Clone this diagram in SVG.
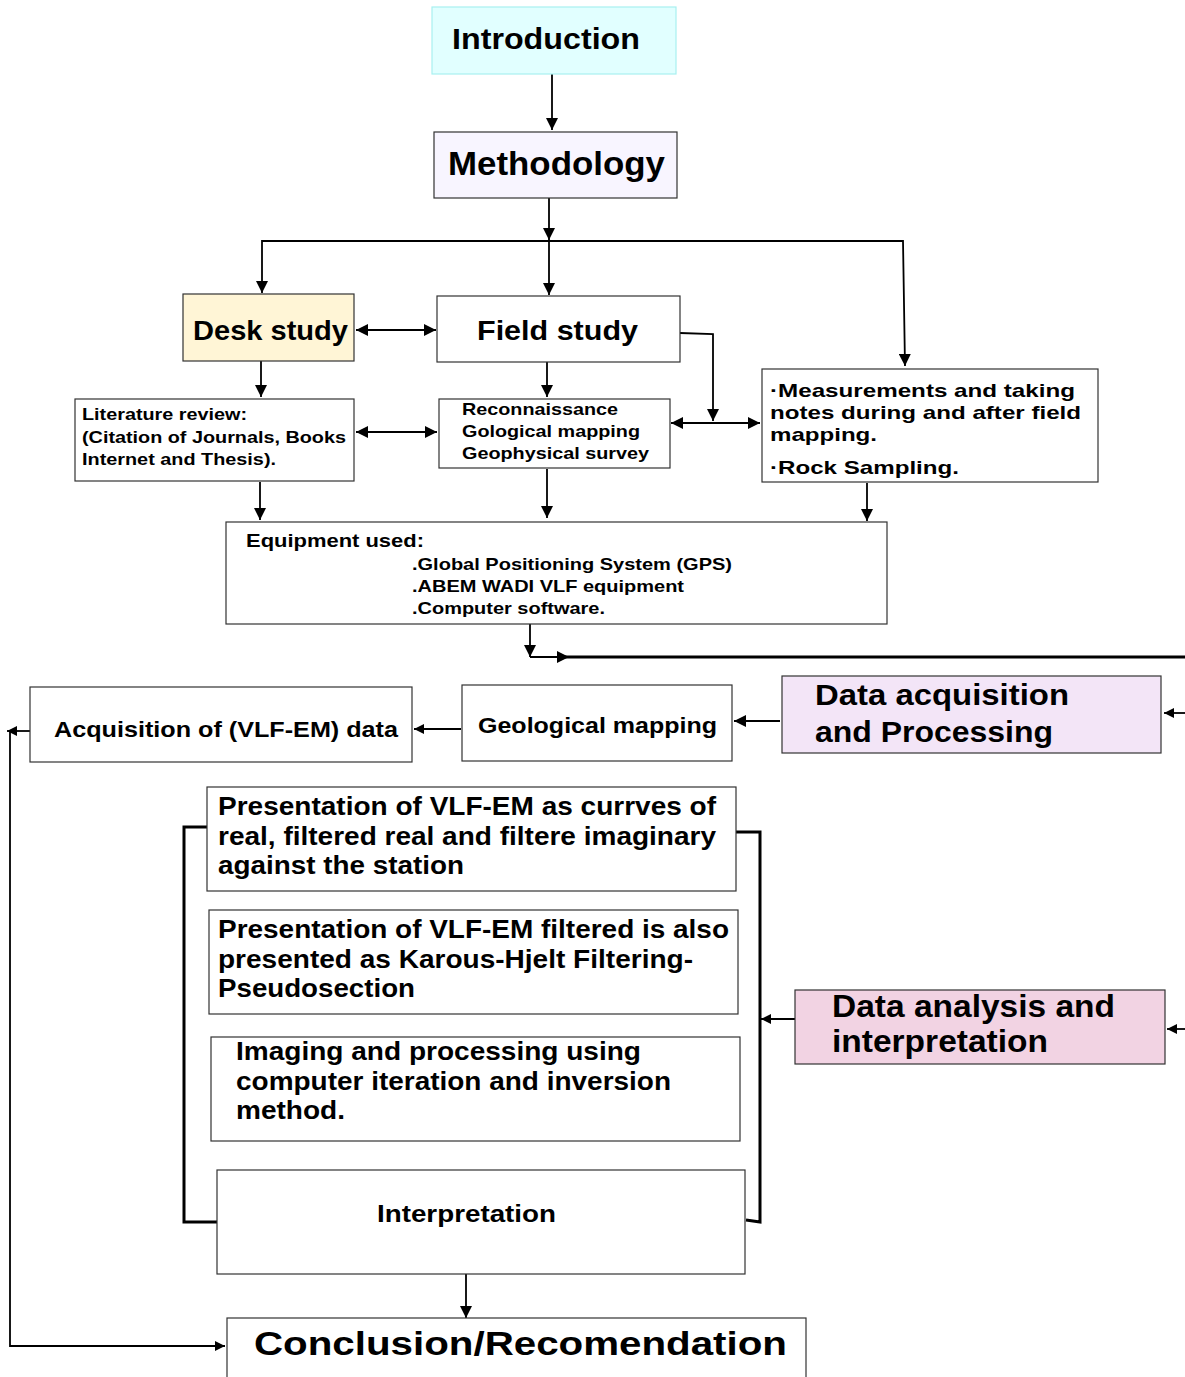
<svg xmlns="http://www.w3.org/2000/svg" width="1185" height="1377" viewBox="0 0 1185 1377">
<style>
text{font-family:"Liberation Sans",Arial,sans-serif;font-weight:bold;fill:#000}
.box{stroke:#333;stroke-width:1.2;fill:#fff}
.ln{fill:none;stroke:#000;stroke-width:1.8}
.thk{fill:none;stroke:#000;stroke-width:3}
</style>
<defs>
<marker id="ah" markerUnits="userSpaceOnUse" markerWidth="14" markerHeight="12" refX="12" refY="6" orient="auto-start-reverse">
<path d="M0,0 L12,6 L0,12 Z" fill="#000"/>
</marker>
<marker id="ahs" markerUnits="userSpaceOnUse" markerWidth="12" markerHeight="10" refX="10" refY="5" orient="auto-start-reverse">
<path d="M0,0 L10,5 L0,10 Z" fill="#000"/>
</marker>
</defs>
<rect width="1185" height="1377" fill="#fff"/>

<g id="connectors">
<line class="ln" x1="552" y1="74" x2="552" y2="130" marker-end="url(#ah)"/>
<line class="ln" x1="549" y1="198" x2="549" y2="240" marker-end="url(#ah)"/>
<polyline class="ln" points="262,293 262,241 903,241 905,366" marker-start="url(#ah)" marker-end="url(#ah)"/>
<line class="ln" x1="549" y1="241" x2="549" y2="295" marker-end="url(#ah)"/>
<line class="ln" x1="356" y1="330" x2="436" y2="330" stroke-width="2.4" marker-start="url(#ah)" marker-end="url(#ah)"/>
<polyline class="ln" points="680,333 713,334 713,421" marker-end="url(#ah)"/>
<line class="ln" x1="261" y1="361" x2="261" y2="397" marker-end="url(#ah)"/>
<line class="ln" x1="547" y1="362" x2="547" y2="397" marker-end="url(#ah)"/>
<line class="ln" x1="356" y1="432" x2="437" y2="432" marker-start="url(#ah)" marker-end="url(#ah)"/>
<line class="ln" x1="671" y1="423" x2="760" y2="423" stroke-width="2.4" marker-start="url(#ah)" marker-end="url(#ah)"/>
<line class="ln" x1="260" y1="482" x2="260" y2="520" marker-end="url(#ah)"/>
<line class="ln" x1="547" y1="469" x2="547" y2="518" marker-end="url(#ah)"/>
<line class="ln" x1="867" y1="483" x2="867" y2="521" marker-end="url(#ah)"/>
<line class="ln" x1="530" y1="624" x2="530" y2="657" marker-end="url(#ah)"/>
<line class="ln" x1="530" y1="657" x2="569" y2="657" stroke-width="3" marker-end="url(#ah)"/>
<line class="thk" x1="560" y1="657" x2="1185" y2="657"/>
<line class="ln" x1="1185" y1="713" x2="1164" y2="713" marker-end="url(#ahs)"/>
<line class="ln" x1="780" y1="721" x2="734" y2="721" stroke-width="3" marker-end="url(#ah)"/>
<line class="ln" x1="461" y1="729" x2="414" y2="729" marker-end="url(#ahs)"/>
<line class="ln" x1="30" y1="731" x2="7" y2="731" stroke-width="1.2" marker-end="url(#ahs)"/>
<polyline class="ln" points="10,731 10,1346 225,1346" stroke-width="1.2" marker-end="url(#ahs)"/>
<polyline class="thk" points="207,827 184,827 184,1222 217,1222"/>
<polyline class="thk" points="736,832 760,832 760,1222 746,1220"/>
<line class="ln" x1="795" y1="1019" x2="761" y2="1019" stroke-width="1.5" marker-end="url(#ahs)"/>
<line class="ln" x1="1185" y1="1029" x2="1167" y2="1029" marker-end="url(#ahs)"/>
<line class="ln" x1="466" y1="1274" x2="466" y2="1318" marker-end="url(#ah)"/>
</g>

<g id="introduction">
<rect x="432" y="7" width="244" height="67" fill="#e1ffff" stroke="#a8f0f0" stroke-width="1.2"/>
<text x="452" y="49" font-size="30" textLength="188" lengthAdjust="spacingAndGlyphs">Introduction</text>
</g>
<g id="methodology">
<rect class="box" x="434" y="132" width="243" height="66" fill="#f8f5ff" style="fill:#f8f5ff"/>
<text x="448" y="175" font-size="33" textLength="217" lengthAdjust="spacingAndGlyphs">Methodology</text>
</g>
<g id="desk-study">
<rect class="box" x="183" y="294" width="171" height="67" style="fill:#fff5d6"/>
<text x="193" y="340" font-size="27" textLength="155" lengthAdjust="spacingAndGlyphs">Desk study</text>
</g>
<g id="field-study">
<rect class="box" x="437" y="296" width="243" height="66"/>
<text x="477" y="340" font-size="27" textLength="161" lengthAdjust="spacingAndGlyphs">Field study</text>
</g>
<g id="literature-review">
<rect class="box" x="75" y="399" width="279" height="82"/>
<text x="82" y="420" font-size="17" textLength="165" lengthAdjust="spacingAndGlyphs">Literature review:</text>
<text x="82" y="443" font-size="17" textLength="264" lengthAdjust="spacingAndGlyphs">(Citation of Journals, Books</text>
<text x="82" y="465" font-size="17" textLength="194" lengthAdjust="spacingAndGlyphs">Internet and Thesis).</text>
</g>
<g id="reconnaissance">
<rect class="box" x="439" y="399" width="231" height="69"/>
<text x="462" y="415" font-size="17" textLength="156" lengthAdjust="spacingAndGlyphs">Reconnaissance</text>
<text x="462" y="437" font-size="17" textLength="178" lengthAdjust="spacingAndGlyphs">Gological mapping</text>
<text x="462" y="459" font-size="17" textLength="187" lengthAdjust="spacingAndGlyphs">Geophysical survey</text>
</g>
<g id="measurements">
<rect class="box" x="762" y="369" width="336" height="113"/>
<text x="770" y="397" font-size="19" textLength="305" lengthAdjust="spacingAndGlyphs">·Measurements and taking</text>
<text x="770" y="419" font-size="19" textLength="311" lengthAdjust="spacingAndGlyphs">notes during and after field</text>
<text x="770" y="441" font-size="19" textLength="107" lengthAdjust="spacingAndGlyphs">mapping.</text>
<text x="770" y="474" font-size="19" textLength="189" lengthAdjust="spacingAndGlyphs">·Rock Sampling.</text>
</g>
<g id="equipment">
<rect class="box" x="226" y="522" width="661" height="102"/>
<text x="246" y="547" font-size="19" textLength="178" lengthAdjust="spacingAndGlyphs">Equipment used:</text>
<text x="412" y="570" font-size="17" textLength="320" lengthAdjust="spacingAndGlyphs">.Global Positioning System (GPS)</text>
<text x="412" y="592" font-size="17" textLength="272" lengthAdjust="spacingAndGlyphs">.ABEM WADI VLF equipment</text>
<text x="412" y="614" font-size="17" textLength="193" lengthAdjust="spacingAndGlyphs">.Computer software.</text>
</g>
<g id="data-acquisition">
<rect class="box" x="782" y="676" width="379" height="77" style="fill:#f3e5f7"/>
<text x="815" y="705" font-size="30" textLength="254" lengthAdjust="spacingAndGlyphs">Data acquisition</text>
<text x="815" y="742" font-size="30" textLength="238" lengthAdjust="spacingAndGlyphs">and Processing</text>
</g>
<g id="geological-mapping">
<rect class="box" x="462" y="685" width="270" height="76"/>
<text x="478" y="733" font-size="22" textLength="239" lengthAdjust="spacingAndGlyphs">Geological mapping</text>
</g>
<g id="acquisition-vlf">
<rect class="box" x="30" y="687" width="382" height="75"/>
<text x="54" y="737" font-size="22" textLength="344" lengthAdjust="spacingAndGlyphs">Acquisition of (VLF-EM) data</text>
</g>
<g id="presentation-curves">
<rect class="box" x="207" y="787" width="529" height="104"/>
<text x="218" y="815" font-size="25" textLength="498" lengthAdjust="spacingAndGlyphs">Presentation of VLF-EM as currves of</text>
<text x="218" y="845" font-size="25" textLength="498" lengthAdjust="spacingAndGlyphs">real, filtered real and filtere imaginary</text>
<text x="218" y="874" font-size="25" textLength="246" lengthAdjust="spacingAndGlyphs">against the station</text>
</g>
<g id="presentation-filtered">
<rect class="box" x="209" y="910" width="529" height="104"/>
<text x="218" y="938" font-size="25" textLength="511" lengthAdjust="spacingAndGlyphs">Presentation of VLF-EM filtered is also</text>
<text x="218" y="968" font-size="25" textLength="475" lengthAdjust="spacingAndGlyphs">presented as Karous-Hjelt Filtering-</text>
<text x="218" y="997" font-size="25" textLength="197" lengthAdjust="spacingAndGlyphs">Pseudosection</text>
</g>
<g id="imaging">
<rect class="box" x="211" y="1037" width="529" height="104"/>
<text x="236" y="1060" font-size="25" textLength="405" lengthAdjust="spacingAndGlyphs">Imaging and processing using</text>
<text x="236" y="1090" font-size="25" textLength="435" lengthAdjust="spacingAndGlyphs">computer iteration and inversion</text>
<text x="236" y="1119" font-size="25" textLength="109" lengthAdjust="spacingAndGlyphs">method.</text>
</g>
<g id="interpretation">
<rect class="box" x="217" y="1170" width="528" height="104"/>
<text x="377" y="1222" font-size="24" textLength="179" lengthAdjust="spacingAndGlyphs">Interpretation</text>
</g>
<g id="data-analysis">
<rect class="box" x="795" y="990" width="370" height="74" style="fill:#f2d3e3"/>
<text x="832" y="1017" font-size="31" textLength="283" lengthAdjust="spacingAndGlyphs">Data analysis and</text>
<text x="832" y="1052" font-size="31" textLength="216" lengthAdjust="spacingAndGlyphs">interpretation</text>
</g>
<g id="conclusion">
<rect class="box" x="227" y="1318" width="579" height="70"/>
<text x="254" y="1355" font-size="33" textLength="533" lengthAdjust="spacingAndGlyphs">Conclusion/Recomendation</text>
</g>
</svg>
